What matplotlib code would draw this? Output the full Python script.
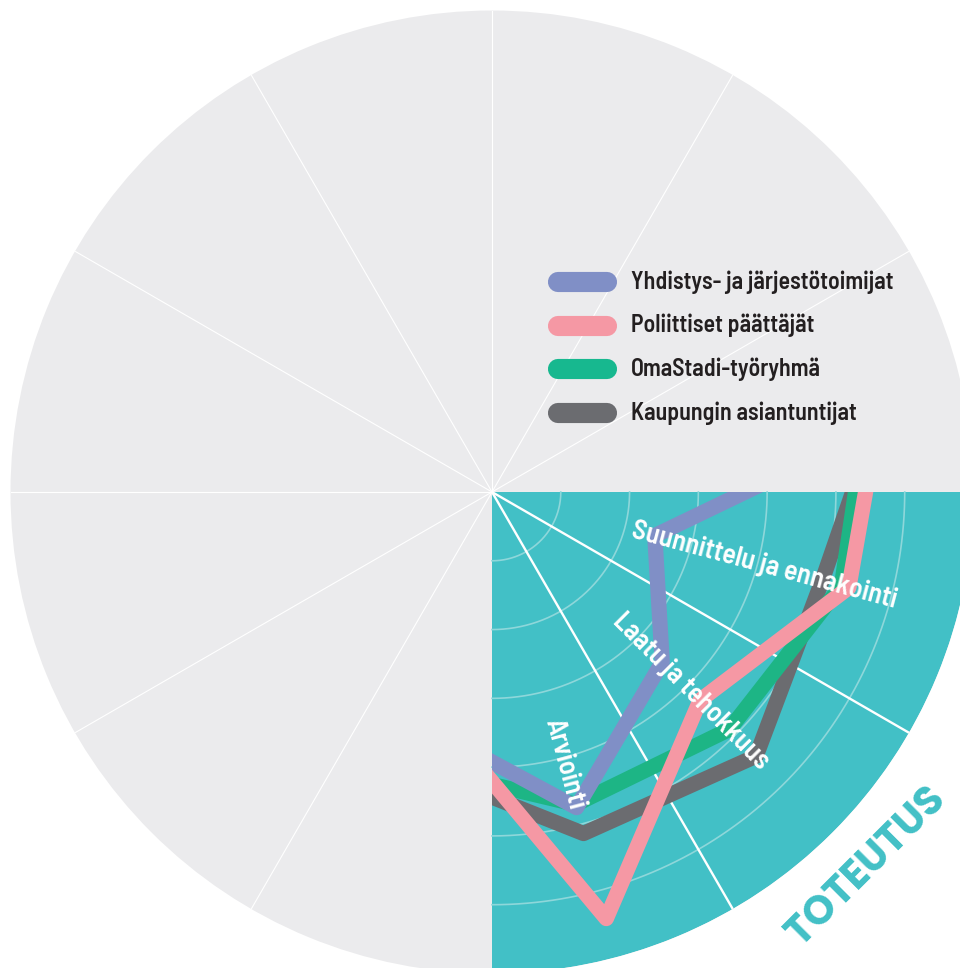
import numpy as np
import matplotlib
matplotlib.use("Agg")
import matplotlib.pyplot as plt
from matplotlib.patches import Polygon
from matplotlib.lines import Line2D

# --- data -------------------------------------------------------------
# Phase categories shown in the highlighted quadrant, plus the adjacent
# spokes on either side (those belong to neighbouring phases and are hidden).
categories = ["", "Suunnittelu ja ennakointi", "Laatu ja tehokkuus", "Arviointi", ""]
category_angles_deg = [15, -15, -45, -75, -105]
phase_label = "TOTEUTUS"

series_names = [
    "Yhdistys- ja järjestötoimijat",
    "Poliittiset päättäjät",
    "OmaStadi-työryhmä",
    "Kaupungin asiantuntijat",
]
yhdistys = [8.6, 2.45, 3.5, 4.75, 3.55]
poliitikot = [5.9, 5.37, 4.28, 6.42, 3.3]
tyoryhma = [5.7, 5.26, 4.88, 4.70, 4.14]
asiantuntijat = [5.98, 4.97, 5.43, 5.14, 4.15]

r_max = 7
ring_levels = [1, 2, 3, 4, 5, 6]

# --- styling ----------------------------------------------------------
DISC = "#ebebed"
TEAL = "#42c0c6"
RING = "#8ed7da"
colors = ["#808fc6", "#f598a4", "#1db585", "#6b6c70"]
legend_colors = ["#808fc6", "#f598a4", "#17b88f", "#6b6c70"]
SEMI = ["Barlow Semi Condensed", "DejaVu Sans"]
DISPLAY = ["Poppins", "Lato", "DejaVu Sans"]

W, H = 960, 968
fig = plt.figure(figsize=(W / 100, H / 100), dpi=100, facecolor="white")
cx, cy, R = 492, 476, 481.5          # centre (from bottom-left) and radius, px
ax = fig.add_axes([(cx - R) / W, (cy - R) / H, 2 * R / W, 2 * R / H],
                  projection="polar")
ax.set_facecolor(DISC)
ax.set_ylim(0, r_max)
ax.set_xticks([])
ax.set_yticks([])
ax.grid(False)
ax.spines["polar"].set_visible(False)

# thin white spokes across the whole disc
for a in range(0, 360, 30):
    ax.plot([np.radians(a)] * 2, [0, r_max], color="white", lw=0.8, zorder=1)

# highlighted quadrant
th = np.linspace(-np.pi / 2, 0, 300)
quad_verts = [(0, 0)] + [(t, r_max) for t in th]
quad = Polygon(quad_verts, closed=True, transform=ax.transData,
               facecolor=TEAL, edgecolor="none", zorder=2)
ax.add_patch(quad)
clip = Polygon(quad_verts, closed=True, transform=ax.transData,
               facecolor="none", edgecolor="none")
ax.add_patch(clip)
clip.set_visible(False)

for r in ring_levels:
    ax.plot(th, np.full_like(th, r), color=RING, lw=1.2, zorder=3)
for a in (-30, -60):
    ax.plot([np.radians(a)] * 2, [0, r_max], color="white", lw=1.7, zorder=3)

# series lines
theta = np.radians(category_angles_deg)
for vals, c, z in zip([asiantuntijat, tyoryhma, yhdistys, poliitikot],
                      [colors[3], colors[2], colors[0], colors[1]],
                      [5, 6, 7, 8]):
    ln, = ax.plot(theta, vals, color=c, lw=11, solid_joinstyle="round",
                  solid_capstyle="butt", zorder=z)
    ln.set_clip_path(clip)

# category labels along the bisectors
label_r = 4.1
for name, a in zip(categories, category_angles_deg):
    if not name:
        continue
    ax.text(np.radians(a), label_r, name, rotation=a, rotation_mode="anchor",
            ha="center", va="center", color="white", fontsize=20,
            family=SEMI, fontweight=600, zorder=10)

ax.text(np.radians(-45), 7.72, phase_label, rotation=45, rotation_mode="anchor",
        ha="center", va="center", color=TEAL, fontsize=29,
        family=DISPLAY, fontweight="bold", clip_on=False, zorder=10)

# legend
px = lambda x, y: (x / W, 1 - y / H)
for i, (name, c) in enumerate(zip(series_names, legend_colors)):
    y = 282 + i * 43.7
    x0, y0 = px(558, y)
    x1, _ = px(607, y)
    fig.add_artist(Line2D([x0, x1], [y0, y0], transform=fig.transFigure,
                          color=c, lw=14.5, solid_capstyle="round"))
    tx, ty = px(631, y)
    fig.text(tx, ty, name, ha="left", va="center", color="#231f20",
             fontsize=17.2, family=SEMI, fontweight=600)

fig.savefig("out.png", dpi=100, facecolor="white")
